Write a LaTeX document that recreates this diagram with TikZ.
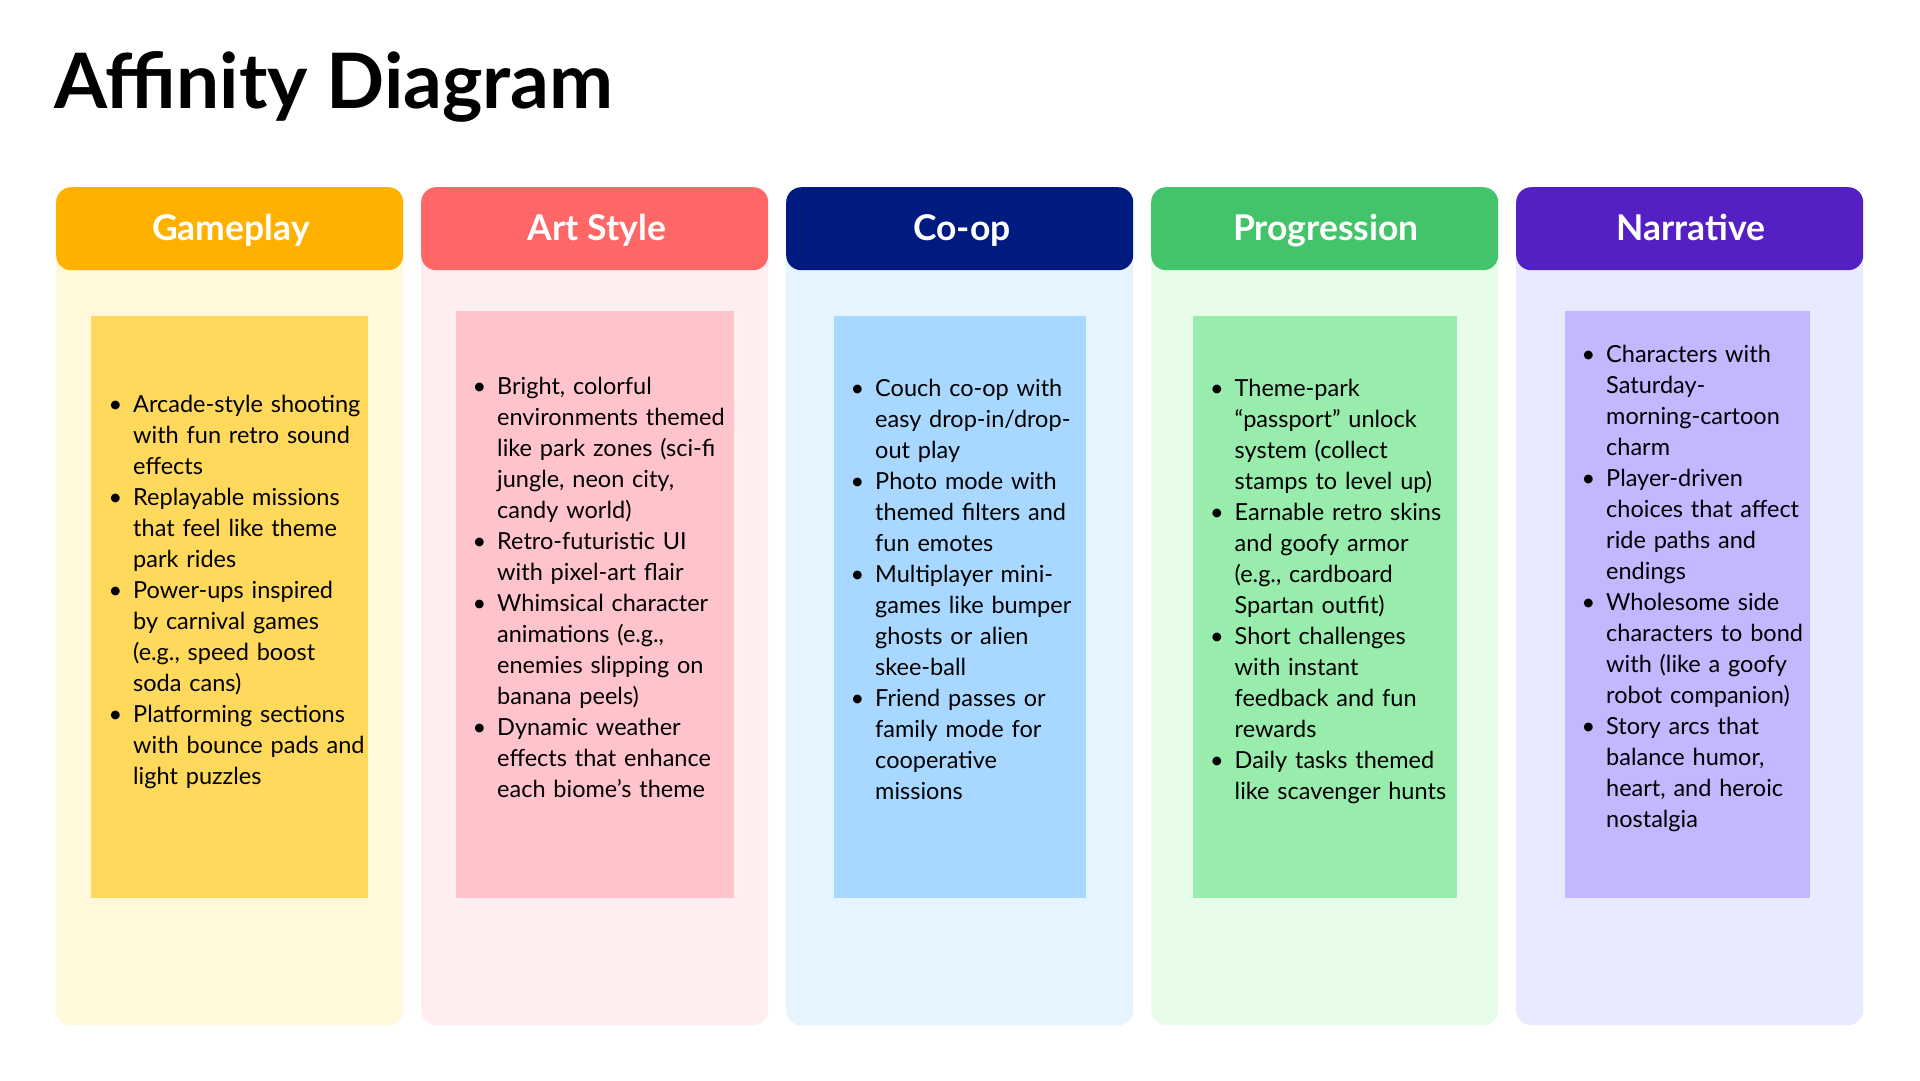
\documentclass[tikz,border=0pt]{standalone}
\usepackage{fontspec}
\setmainfont{Lato}
\definecolor{gpH}{HTML}{FFB100}
\definecolor{gpB}{HTML}{FFF8DB}
\definecolor{gpI}{HTML}{FFD95C}
\definecolor{arH}{HTML}{FF6666}
\definecolor{arB}{HTML}{FFEDEF}
\definecolor{arI}{HTML}{FFC4CB}
\definecolor{coH}{HTML}{001B80}
\definecolor{coB}{HTML}{E5F4FF}
\definecolor{coI}{HTML}{A8D8FF}
\definecolor{prH}{HTML}{44C46A}
\definecolor{prB}{HTML}{E8FDE9}
\definecolor{prI}{HTML}{98ECAC}
\definecolor{naH}{HTML}{5420C4}
\definecolor{naB}{HTML}{E8EBFF}
\definecolor{naI}{HTML}{C4B6FF}
\newcommand\bul{\leavevmode\llap{\makebox[35.4pt][c]{•}}}
\tikzset{
  colbg/.style={fill=#1, draw=none, rounded corners=15pt, minimum width=347pt, minimum height=838pt, anchor=north west, inner sep=0pt},
  colhead/.style={fill=#1, draw=none, rounded corners=15pt, minimum width=347pt, minimum height=83pt, anchor=north west, inner sep=0pt},
  notebox/.style={fill=#1, draw=none, anchor=north west, inner sep=0pt},
  headtext/.style={anchor=base, text=white, inner sep=0pt, font=\fontsize{35.5}{40}\selectfont\bfseries},
  bodytext/.style={anchor=north west, inner sep=0pt, text width=320pt, align=left, font=\fontsize{23.5}{31}\selectfont},
}
\begin{document}
\begin{tikzpicture}[x=1pt,y=-1pt]
\useasboundingbox[fill=white] (0,0) rectangle (1920,1080);
\node[anchor=base west, inner sep=0pt, font=\fontsize{76.5}{80}\selectfont\bfseries] (title) at (54,108) {Affinity Diagram};

% backgrounds
\node[colbg=gpB] (bg1) at (56,187) {};
\node[colbg=arB] (bg2) at (421,187) {};
\node[colbg=coB] (bg3) at (786,187) {};
\node[colbg=prB] (bg4) at (1151,187) {};
\node[colbg=naB] (bg5) at (1516,187) {};

% headers
\node[colhead=gpH] (h1) at (56,187) {};
\node[colhead=arH] (h2) at (421,187) {};
\node[colhead=coH] (h3) at (786,187) {};
\node[colhead=prH] (h4) at (1151,187) {};
\node[colhead=naH] (h5) at (1516,187) {};
\node[headtext] (t1) at (231,240) {Gameplay};
\node[headtext] (t2) at (597,240) {Art Style};
\node[headtext] (t3) at (962,240) {Co-op};
\node[headtext] (t4) at (1326,240) {Progression};
\node[headtext] (t5) at (1691,240) {Narrative};

% inner notes
\node[notebox=gpI, minimum width=276.5pt, minimum height=581.5pt] (n1) at (91,316) {};
\node[notebox=arI, minimum width=278.5pt, minimum height=586.5pt] (n2) at (455.5,311) {};
\node[notebox=coI, minimum width=252pt, minimum height=581.5pt] (n3) at (834,316) {};
\node[notebox=prI, minimum width=264pt, minimum height=581.5pt] (n4) at (1193,316) {};
\node[notebox=naI, minimum width=244.5pt, minimum height=586.5pt] (n5) at (1565,311) {};

% texts
\node[bodytext] (b1) at (133,390.3) {\strut\bul Arcade-style shooting\\ with fun retro sound\\ effects\\
\bul Replayable missions\\ that feel like theme\\ park rides\\
\bul Power-ups inspired\\ by carnival games\\ (e.g., speed boost\\ soda cans)\\
\bul Platforming sections\\ with bounce pads and\\ light puzzles};

\node[bodytext] (b2) at (497,372.6) {\strut\bul Bright, colorful\\ environments themed\\ like park zones (sci-fi\\ jungle, neon city,\\ candy world)\\
\bul Retro-futuristic UI\\ with pixel-art flair\\
\bul Whimsical character\\ animations (e.g.,\\ enemies slipping on\\ banana peels)\\
\bul Dynamic weather\\ effects that enhance\\ each biome’s theme};

\node[bodytext] (b3) at (875,375) {\strut\bul Couch co-op with\\ easy drop-in/drop-\\ out play\\
\bul Photo mode with\\ themed filters and\\ fun emotes\\
\bul Multiplayer mini-\\ games like bumper\\ ghosts or alien\\ skee-ball\\
\bul Friend passes or\\ family mode for\\ cooperative\\ missions};

\node[bodytext] (b4) at (1234.5,375) {\strut\bul Theme-park\\ “passport” unlock\\ system (collect\\ stamps to level up)\\
\bul Earnable retro skins\\ and goofy armor\\ (e.g., cardboard\\ Spartan outfit)\\
\bul Short challenges\\ with instant\\ feedback and fun\\ rewards\\
\bul Daily tasks themed\\ like scavenger hunts};

\node[bodytext] (b5) at (1606,341) {\strut\bul Characters with\\ Saturday-\\ morning-cartoon\\ charm\\
\bul Player-driven\\ choices that affect\\ ride paths and\\ endings\\
\bul Wholesome side\\ characters to bond\\ with (like a goofy\\ robot companion)\\
\bul Story arcs that\\ balance humor,\\ heart, and heroic\\ nostalgia};
\end{tikzpicture}
\end{document}
